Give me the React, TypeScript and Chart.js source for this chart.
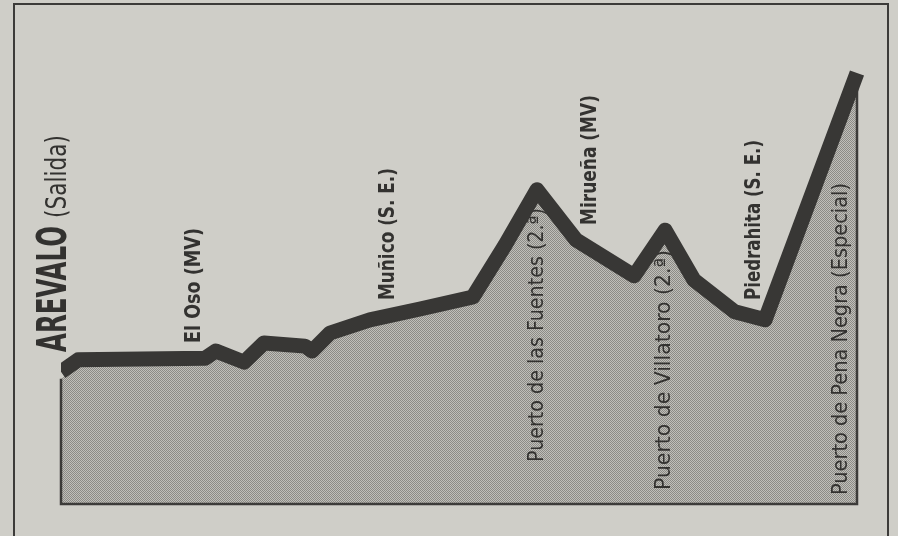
import React, { useEffect, useRef } from "react";
import { Chart, registerables } from "chart.js";

Chart.register(...registerables);

// Stage profile: distance (km) and altitude (m)
const km = [0, 4.3, 36.2, 38.9, 46, 51, 61.3, 63.1, 67.6, 77.6, 90.2, 103.5, 111.6, 119.6, 129.4, 144, 151.8, 159, 169.3, 176.9, 200];
const altitude = [818, 860, 866, 891, 852, 919, 908, 891, 954, 1000, 1038, 1080, 1262, 1455, 1280, 1154, 1314, 1140, 1028, 1000, 1864];

// Place names along the profile
const placeNames = [
  "AREVALO",
  "El Oso (MV)",
  "Muñico (S. E.)",
  "Puerto de las Fuentes (2.ª)",
  "Mirueña (MV)",
  "Puerto de Villatoro (2.ª)",
  "Piedrahita (S. E.)",
  "Puerto de Pena Negra (Especial)",
];
const placeSuffix = ["(Salida)", "", "", "", "", "", "", ""];
const placeKm = [-2.4, 32.9, 81.7, 119.1, 132.4, 151, 173.6, 195.7];
const placeBold = [true, true, true, false, true, false, true, false];

// Layout of the labels (pixels): lift above the baseline, drawn length, font size
const labelLift = [152, 161, 204, 42, 279, 14, 204, 9];
const labelLength = [126, 115, 132, 254, 130, 240, 160, 312];
const labelSize = [40, 22, 22, 21, 22, 21, 22, 21];
const suffixGap = 8;
const suffixLength = 83;
const suffixSize = 29;

const BG = "#cfcec8";
const INK = "#333230";
const LINE = "#383735";
const FONT = "'Liberation Sans Narrow', 'DejaVu Sans Condensed', 'Roboto Condensed', 'Liberation Sans', sans-serif";

function makePattern(ctx: CanvasRenderingContext2D): CanvasPattern | string {
  const c = document.createElement("canvas");
  c.width = 2;
  c.height = 2;
  const p = c.getContext("2d");
  if (!p) return "#a8a7a2";
  p.fillStyle = "#c0bfba";
  p.fillRect(0, 0, 2, 2);
  p.fillStyle = "#8c8b86";
  p.fillRect(0, 0, 1, 1);
  p.fillRect(1, 1, 1, 1);
  return ctx.createPattern(c, "repeat") || "#a8a7a2";
}

function drawFitted(
  ctx: CanvasRenderingContext2D,
  text: string,
  font: string,
  size: number,
  xCenter: number,
  yStart: number,
  length: number
) {
  ctx.save();
  ctx.font = font;
  const w = ctx.measureText(text).width || 1;
  const cap = size * 0.36;
  ctx.translate(xCenter + cap, yStart);
  ctx.rotate(-Math.PI / 2);
  ctx.scale(length / w, 1);
  ctx.fillStyle = INK;
  ctx.textAlign = "left";
  ctx.textBaseline = "alphabetic";
  ctx.fillText(text, 0, 0);
  ctx.restore();
}

export default function App() {
  const ref = useRef<HTMLCanvasElement | null>(null);

  useEffect(() => {
    const canvas = ref.current;
    if (!canvas) return;
    const ctx = canvas.getContext("2d");
    if (!ctx) return;
    const pattern = makePattern(ctx);

    const points = km.map((k, i) => ({ x: k, y: altitude[i] }));

    const paperPlugin = {
      id: "paper",
      beforeDraw(chart: any) {
        const c = chart.ctx;
        c.save();
        c.fillStyle = BG;
        c.fillRect(0, 0, chart.width, chart.height);
        c.strokeStyle = "#3c3b39";
        c.lineWidth = 2;
        c.beginPath();
        c.moveTo(14, chart.height + 2);
        c.lineTo(14, 4);
        c.lineTo(888, 4);
        c.lineTo(888, chart.height + 2);
        c.stroke();
        c.restore();
      },
    };

    const profilePlugin = {
      id: "profile",
      beforeDatasetDraw(chart: any, args: any) {
        if (args.index === 0) {
          chart.ctx.save();
          chart.ctx.translate(0, -7);
        }
      },
      afterDatasetDraw(chart: any, args: any) {
        const c = chart.ctx;
        if (args.index === 0) {
          c.restore();
          return;
        }
        if (args.index !== 1) return;
        const meta = chart.getDatasetMeta(1);
        const first = meta.data[0];
        const last = meta.data[meta.data.length - 1];
        const yScale = chart.scales.y;
        const xScale = chart.scales.x;
        const base = yScale.getPixelForValue(yScale.min);
        c.save();
        c.strokeStyle = "#3c3b39";
        c.lineWidth = 2.5;
        c.lineJoin = "miter";
        c.beginPath();
        c.moveTo(first.x, first.y);
        c.lineTo(first.x, base);
        c.lineTo(last.x, base);
        c.lineTo(last.x, last.y);
        c.stroke();
        c.restore();

        placeNames.forEach((name, i) => {
          const x = xScale.getPixelForValue(placeKm[i]);
          const y0 = base - labelLift[i];
          const size = labelSize[i];
          const font = `${placeBold[i] ? "bold " : ""}${size}px ${FONT}`;
          drawFitted(c, name, font, size, x, y0, labelLength[i]);
          if (placeSuffix[i]) {
            const sy = y0 - labelLength[i] - suffixGap;
            const sfont = `${suffixSize}px ${FONT}`;
            const xs = x + size * 0.36 - suffixSize * 0.36;
            drawFitted(c, placeSuffix[i], sfont, suffixSize, xs, sy, suffixLength);
          }
        });
      },
    };

    const chart = new Chart(canvas, {
      type: "line",
      data: {
        datasets: [
          {
            label: "perfil",
            data: points,
            borderColor: LINE,
            borderWidth: 15,
            borderJoinStyle: "round",
            borderCapStyle: "butt",
            fill: false,
            pointRadius: 0,
            tension: 0,
            order: 0,
            clip: { left: 0, top: false, right: false, bottom: false } as any,
          },
          {
            label: "relleno",
            data: points,
            borderWidth: 0,
            backgroundColor: pattern as any,
            fill: "start",
            pointRadius: 0,
            tension: 0,
            order: 1,
          },
        ],
      },
      options: {
        animation: false,
        responsive: true,
        maintainAspectRatio: false,
        layout: { padding: { left: 61, right: 41, top: 40, bottom: 32 } },
        plugins: { legend: { display: false }, tooltip: { enabled: false }, title: { display: false } },
        scales: {
          x: { type: "linear", min: 0, max: 200, display: false },
          y: { type: "linear", min: 380, max: 2004, display: false },
        },
      },
      plugins: [paperPlugin, profilePlugin],
    });

    return () => chart.destroy();
  }, []);

  return (
    <div style={{ position: "fixed", left: 0, top: 0, width: 898, height: 536, background: BG }}>
      <canvas ref={ref} />
    </div>
  );
}
